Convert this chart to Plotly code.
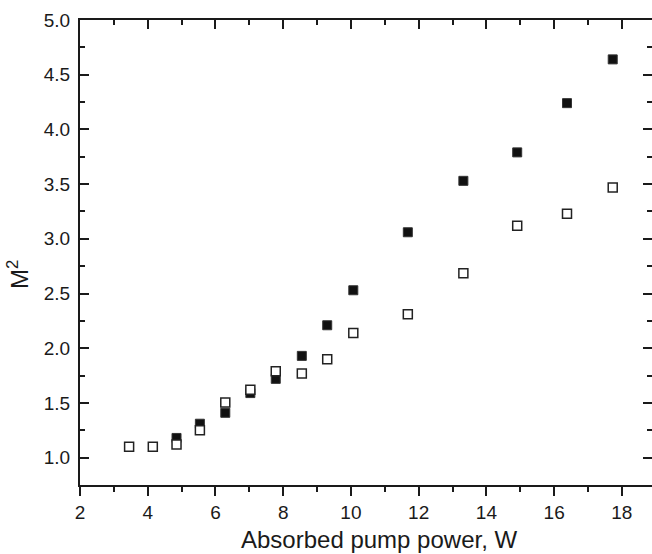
import plotly.graph_objects as go

# Data
x_open = [3.45, 4.15, 4.85, 5.54, 6.29, 7.03, 7.78, 8.55, 9.30, 10.07, 11.68, 13.32, 14.91, 16.38, 17.73]
y_open = [1.10, 1.10, 1.12, 1.25, 1.505, 1.62, 1.79, 1.77, 1.90, 2.14, 2.31, 2.685, 3.12, 3.23, 3.47]

x_filled = [4.85, 5.54, 6.29, 7.03, 7.78, 8.55, 9.30, 10.07, 11.68, 13.32, 14.91, 16.38, 17.73]
y_filled = [1.18, 1.31, 1.41, 1.59, 1.72, 1.93, 2.21, 2.53, 3.06, 3.53, 3.79, 4.24, 4.64]

x_ticks = [2, 4, 6, 8, 10, 12, 14, 16, 18]
y_ticks = [1.0, 1.5, 2.0, 2.5, 3.0, 3.5, 4.0, 4.5, 5.0]
x_range = [2, 18.89]
y_range = [0.75, 5.0]

x_title = "Absorbed pump power, W"
y_title = "M<sup>2</sup>"

FONT = "Liberation Sans, Arial, sans-serif"
INK = "#1a1a1a"

fig = go.Figure()
fig.add_trace(go.Scatter(
    x=x_filled, y=y_filled, mode="markers",
    marker=dict(symbol="square", size=9, color="#111111",
                line=dict(color="#333333", width=1)),
    showlegend=False, hoverinfo="skip"))
fig.add_trace(go.Scatter(
    x=x_open, y=y_open, mode="markers",
    marker=dict(symbol="square", size=9, color="white",
                line=dict(color="#222222", width=1.5)),
    showlegend=False, hoverinfo="skip"))
fig.add_trace(go.Scatter(x=[], y=[], xaxis="x2", yaxis="y2",
                         showlegend=False, hoverinfo="skip"))

common_font = dict(family=FONT, size=19, color=INK)

fig.update_layout(
    width=652, height=554,
    margin=dict(l=80, r=0, t=20, b=69),
    paper_bgcolor="white", plot_bgcolor="white",
    font=common_font,
    xaxis=dict(range=x_range, tickvals=x_ticks, ticktext=[str(v) for v in x_ticks],
               ticks="outside", ticklen=9, tickwidth=2, tickcolor=INK,
               showline=True, linewidth=2, linecolor=INK,
               showgrid=False, zeroline=False,
               minor=dict(dtick=1, tick0=3, ticks="outside", ticklen=5, tickwidth=2, tickcolor=INK),
               tickfont=common_font),
    yaxis=dict(range=y_range, tickvals=y_ticks, ticktext=[f"{v:.1f}" for v in y_ticks],
               ticks="inside", ticklen=9, tickwidth=2, tickcolor=INK,
               showline=True, linewidth=2, linecolor=INK,
               showgrid=False, zeroline=False,
               minor=dict(dtick=0.25, tick0=0.75, ticks="inside", ticklen=5, tickwidth=2, tickcolor=INK),
               tickfont=common_font, ticklabelstandoff=4),
    xaxis2=dict(range=x_range, overlaying="x", side="top", anchor="y2",
                tickvals=x_ticks, showticklabels=False,
                ticks="inside", ticklen=9, tickwidth=2, tickcolor=INK,
                showline=True, linewidth=2, linecolor=INK,
                showgrid=False, zeroline=False,
                minor=dict(dtick=1, tick0=3, ticks="inside", ticklen=5, tickwidth=2, tickcolor=INK)),
    yaxis2=dict(range=y_range, overlaying="y", side="right", anchor="x2",
                tickvals=y_ticks, showticklabels=False,
                ticks="inside", ticklen=9, tickwidth=2, tickcolor=INK,
                showline=False, showgrid=False, zeroline=False,
                minor=dict(dtick=0.25, tick0=0.75, ticks="inside", ticklen=5, tickwidth=2, tickcolor=INK)),
    annotations=[
        dict(text=x_title, xref="paper", yref="paper", x=0.5236, y=-0.1172,
             xanchor="center", yanchor="middle", showarrow=False,
             font=dict(family=FONT, size=24, color=INK)),
        dict(text=y_title, xref="paper", yref="paper", x=-0.1084, y=0.4538,
             xanchor="center", yanchor="middle", showarrow=False, textangle=-90,
             font=dict(family=FONT, size=24, color=INK)),
    ],
)

fig.write_html("out.html", config={"displayModeBar": False},
               post_script="document.body.style.margin='0';")
